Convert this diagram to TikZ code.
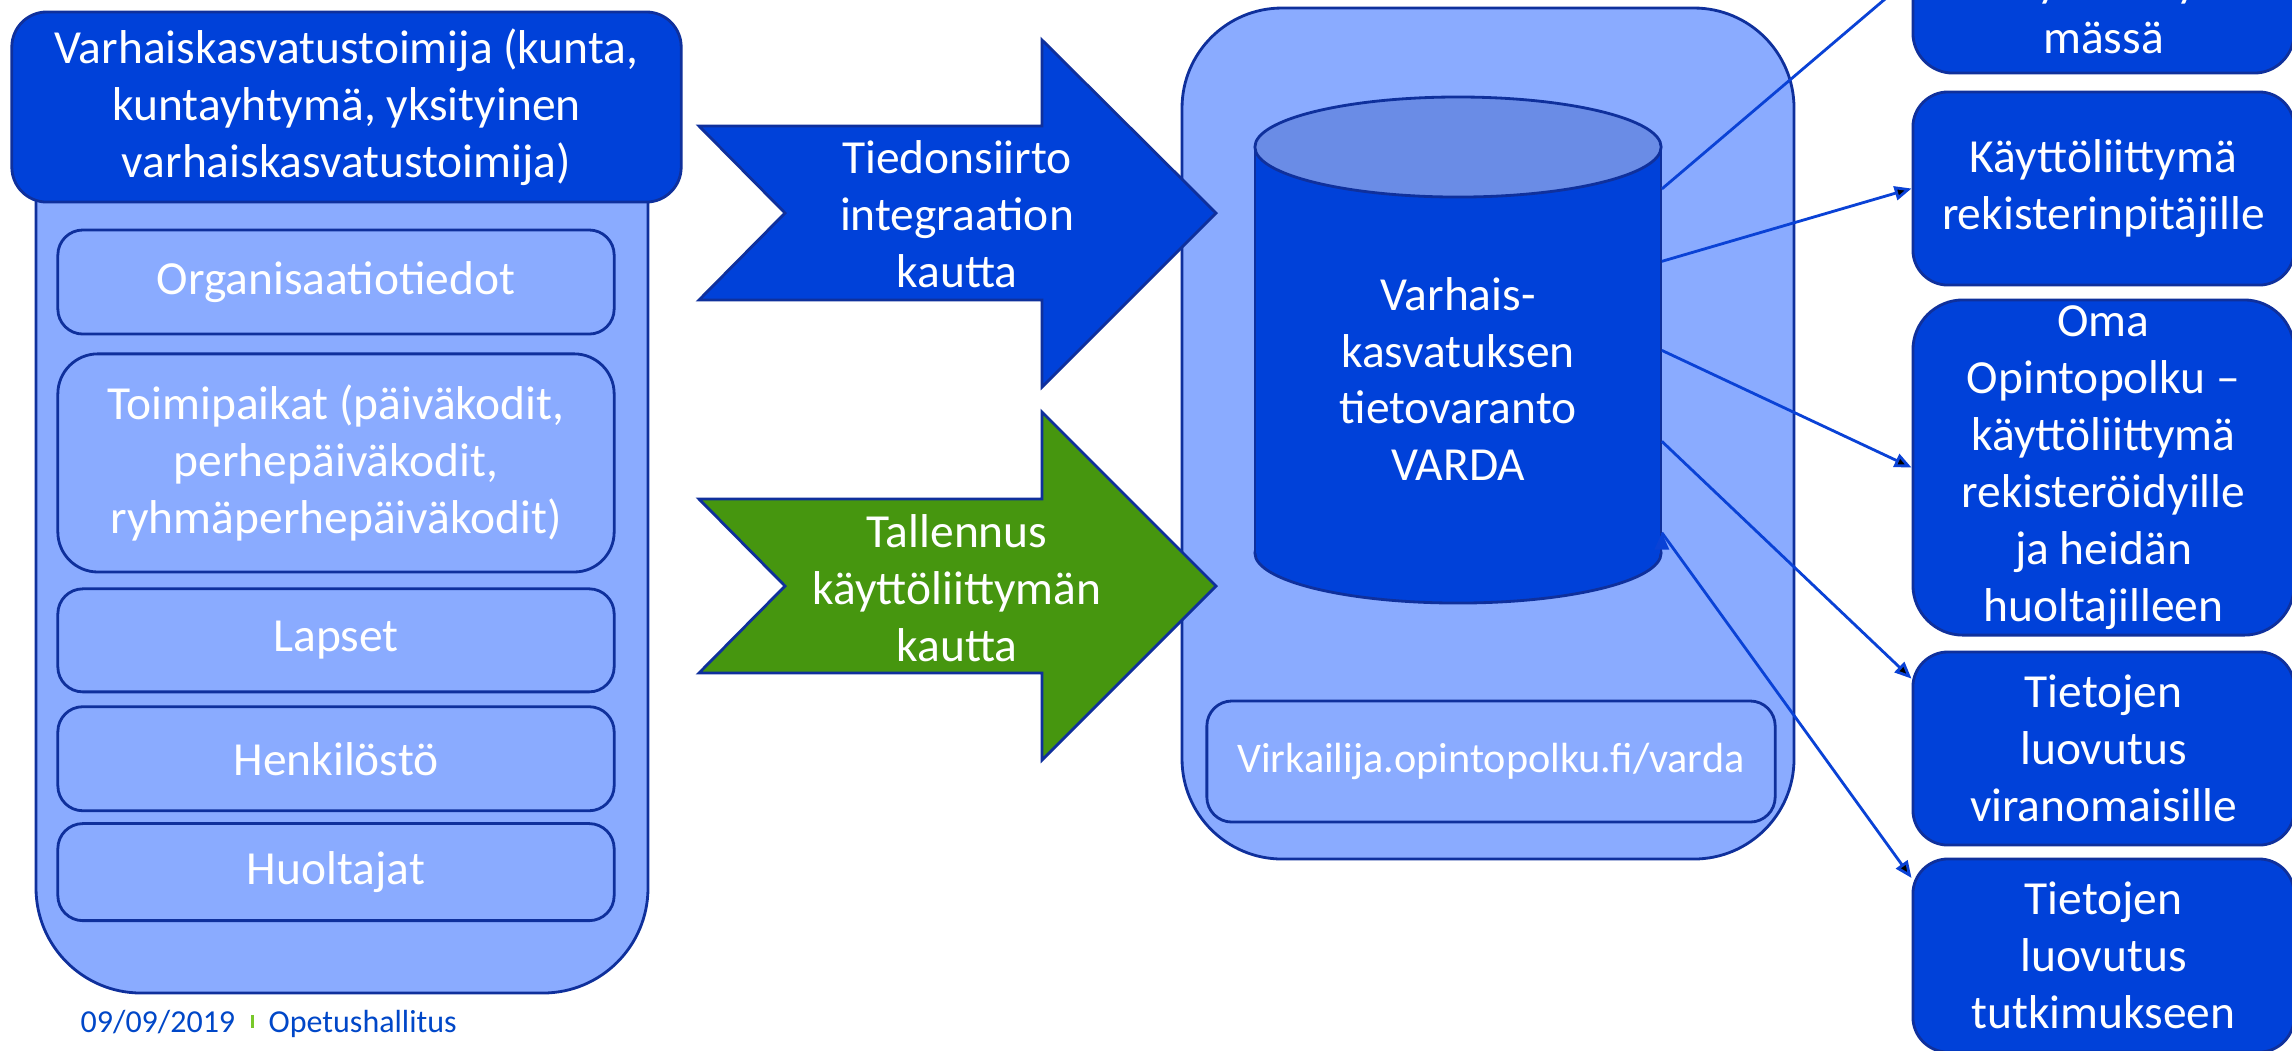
\documentclass[tikz,border=0pt]{standalone}
\usepackage{fontspec}
\setmainfont{Carlito}
\usepackage{tikz}
\usetikzlibrary{arrows.meta, positioning}
\definecolor{vaalea}{HTML}{8AABFF}
\definecolor{tumma}{HTML}{0041D9}
\definecolor{reuna}{HTML}{0F309C}
\definecolor{kansi}{HTML}{6A8CE6}
\definecolor{vihrea}{HTML}{46960F}
\definecolor{viiva}{HTML}{0A42D6}
\definecolor{alateksti}{HTML}{0047C8}
\definecolor{alapalkki}{HTML}{78C82A}
\newcommand{\isoteksti}{\fontsize{13.5}{16.2}\selectfont}
\newcommand{\pienteksti}{\fontsize{12}{14.4}\selectfont}

\begin{document}
\begin{tikzpicture}[x=0.01cm,y=-0.01cm,>={Triangle[length=4.8pt,width=4pt]},
        dark node/.style={rectangle,draw=reuna,line width=0.8pt,fill=tumma,text=white,
            font=\isoteksti,align=center,inner sep=0pt,rounded corners=0.35cm},
        light node/.style={dark node,fill=vaalea,rounded corners=0.25cm,minimum width=5.56cm},
        right node/.style={dark node,minimum width=3.81cm,minimum height=1.93cm},
        frame/.style={draw=reuna,line width=0.8pt,fill=vaalea},
        big arrow/.style={draw=reuna,line width=0.8pt},
        label text/.style={font=\isoteksti,text=white,align=center,inner sep=0pt},
        link/.style={->,draw=viiva,line width=0.8pt},
        footer/.style={font=\fontsize{9.1}{11}\selectfont,text=alateksti,inner sep=0pt,anchor=base west}]

    \path[use as bounding box, fill=white] (0,0) rectangle (2292,1050);
    \clip (0,0) rectangle (2292,1050);

    % vasen laatikko
    \draw[frame, rounded corners=1.05cm] (36,60) rectangle (648,993);
    \node[dark node, minimum width=6.69cm, minimum height=1.9cm] (toimija) at (346.5,107)
        {Varhaiskasvatustoimija (kunta,\\kuntayhtymä, yksityinen\\varhaiskasvatustoimija)};
    \node[light node, minimum height=1.04cm] (org) at (336,282) {Organisaatiotiedot};
    \node[light node, minimum height=2.18cm, rounded corners=0.4cm, below=0.17cm of org] (toimipaikat)
        {Toimipaikat (päiväkodit,\\perhepäiväkodit,\\ryhmäperhepäiväkodit)};
    \node[light node, minimum height=1.03cm, below=0.14cm of toimipaikat] (lapset) {Lapset};
    \node[light node, minimum height=1.04cm, below=0.12cm of lapset] (henkilosto) {Henkilöstö};
    \node[light node, minimum height=0.97cm, below=0.1cm of henkilosto] (huoltajat) {Huoltajat};

    % keskimmainen laatikko ja tietokanta
    \draw[frame, rounded corners=1cm] (1182,8) rectangle (1794,859);
    \filldraw[fill=tumma, draw=reuna, line width=0.8pt] (1458,553) ellipse [x radius=2.03cm, y radius=0.5cm];
    \fill[tumma] (1255,147) rectangle (1661,553);
    \draw[reuna, line width=0.8pt] (1255,147) -- (1255,553) (1661,147) -- (1661,553);
    \filldraw[fill=kansi, draw=reuna, line width=0.8pt] (1458,147) ellipse [x radius=2.03cm, y radius=0.5cm];
    \node[label text, minimum width=4.06cm, minimum height=4.48cm] (varda) at (1458,379)
        {Varhais-\\kasvatuksen\\tietovaranto\\VARDA};
    \node[light node, minimum width=5.68cm, minimum height=1.21cm, font=\pienteksti] (virkailija) at (1491,761.5)
        {Virkailija.opintopolku.fi/varda};

    % siirtonuolet
    \filldraw[big arrow, fill=tumma] (699,126) -- (1042,126) -- (1042,40) -- (1216,213)
        -- (1042,387) -- (1042,300) -- (699,300) -- (785,213) -- cycle;
    \node[label text] (integraatio) at (957,214) {Tiedonsiirto\\integraation\\kautta};
    \filldraw[big arrow, fill=vihrea] (699,499) -- (1042,499) -- (1042,412) -- (1216,586)
        -- (1042,760) -- (1042,673) -- (699,673) -- (785,586) -- cycle;
    \node[label text] (tallennus) at (957,588) {Tallennus\\käyttöliittymän\\kautta};

    % oikeat laatikot
    \node[right node, rounded corners=0.4cm] (ylin) at (2103.5,-23.5) {};
    \node[label text] (ylinteksti) at (2103.5,8.5) {käyttöliitty-\\mässä};
    \node[right node] (rekisterinpitajat) at (2103.5,188.5) {Käyttöliittymä\\rekisterinpitäjille};
    \node[right node, minimum height=3.35cm, rounded corners=0.5cm] (oma) at (2103.5,467.5)
        {Oma\\Opintopolku –\\käyttöliittymä\\rekisteröidyille\\ja heidän\\huoltajilleen};
    \node[right node] (viranomaiset) at (2103.5,748.5) {Tietojen\\luovutus\\viranomaisille};
    \node[right node] (tutkimus) at (2103.5,955.5) {Tietojen\\luovutus\\tutkimukseen};

    \path[link]
        (varda.43) edge (ylin.west)
        (varda.30) edge (rekisterinpitajat.west)
        (varda.8) edge (oma.west)
        (varda.-17) edge (viranomaiset.160)
        (varda.-37) edge (tutkimus.158);

    % alatunniste
    \node[footer] (pvm) at (80,1032) {09/09/2019};
    \fill[alapalkki] (251,1015) rectangle (254,1028);
    \node[footer] (oph) at (268,1032) {Opetushallitus};
\end{tikzpicture}
\end{document}
